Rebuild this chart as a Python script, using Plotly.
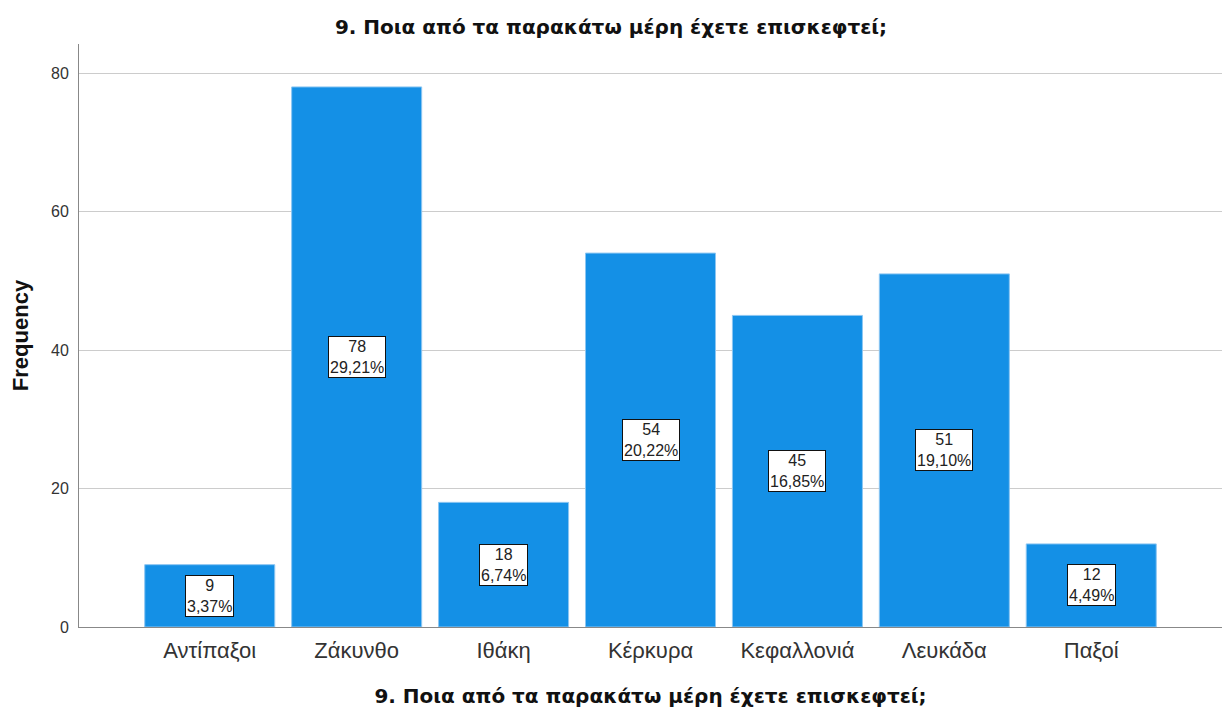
import plotly.graph_objects as go

categories = ["Αντίπαξοι", "Ζάκυνθο", "Ιθάκη", "Κέρκυρα", "Κεφαλλονιά", "Λευκάδα", "Παξοί"]
frequencies = [9, 78, 18, 54, 45, 51, 12]
percent_labels = ["3,37%", "29,21%", "6,74%", "20,22%", "16,85%", "19,10%", "4,49%"]
title_text = "9. Ποια από τα παρακάτω μέρη έχετε επισκεφτεί;"

FONT = "Liberation Sans, Arial, sans-serif"
BOLD_FONT = "DejaVu Sans, Liberation Sans, Arial, sans-serif"

fig = go.Figure()
fig.add_trace(go.Bar(
    x=categories, y=frequencies,
    marker=dict(color="#1490E6", line=dict(color="#8cc6f2", width=1)),
    showlegend=False, hoverinfo="skip",
))

for c, v, p in zip(categories, frequencies, percent_labels):
    fig.add_annotation(
        x=c, y=v / 2, xref="x", yref="y",
        text=f"{v}<br>{p}", showarrow=False,
        font=dict(family=FONT, size=16, color="#222"),
        bgcolor="white", bordercolor="#111", borderwidth=1, borderpad=1,
        xanchor="center", yanchor="middle",
    )

fig.update_layout(
    width=1222, height=713,
    margin=dict(l=79, r=0, t=44, b=86),
    plot_bgcolor="white", paper_bgcolor="white",
    bargap=0.115,
    font=dict(family=FONT, color="#222"),
    title=dict(text=f"<b>{title_text}</b>", x=0.5, xanchor="center", y=1 - 27 / 713, yanchor="middle",
               font=dict(family=BOLD_FONT, size=20, color="#111")),
)
fig.update_xaxes(
    range=[-0.89, 6.89], showgrid=False, showline=True, linecolor="#888", linewidth=1,
    ticks="", tickfont=dict(size=22, color="#333"), ticklabelstandoff=4,
    title=dict(text=f"<b>{title_text}</b>", font=dict(family=BOLD_FONT, size=20, color="#111"), standoff=26),
    automargin=False,
)
fig.update_yaxes(
    range=[0, 84.2], showgrid=True, gridcolor="#cccccc", gridwidth=1,
    showline=True, linecolor="#888", linewidth=1, ticks="", tickvals=[0, 20, 40, 60, 80],
    tickfont=dict(size=16, color="#333"), zeroline=False, ticklabelstandoff=6,
    title=dict(text="<b>Frequency</b>", font=dict(size=22, color="#111"), standoff=16),
    automargin=False,
)

post = ("document.body.style.margin='0';document.body.style.overflow='hidden';"
        "var gd=document.getElementById('{plot_id}');if(window.Plotly){Plotly.Plots.resize(gd);}")
fig.write_html("out.html", post_script=post, config={"displayModeBar": False})
